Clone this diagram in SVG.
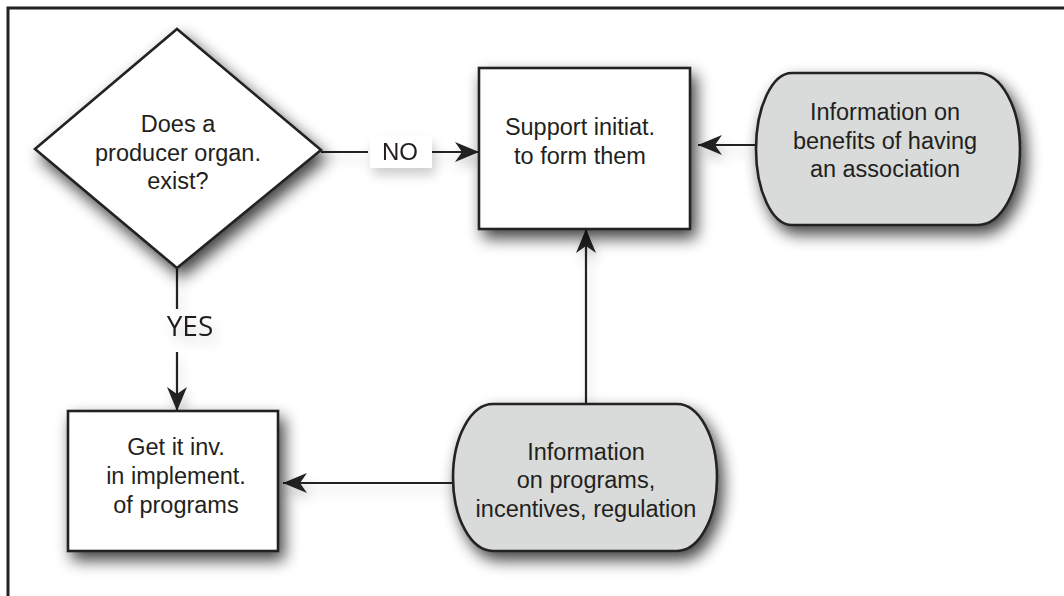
<svg xmlns="http://www.w3.org/2000/svg" width="1064" height="596" viewBox="0 0 1064 596">
  <style>
    .frame { fill: none; stroke: #222; stroke-width: 3; }
    .box { fill: #ffffff; stroke: #222; stroke-width: 2.6; }
    .info { fill: #d8dbd9; stroke: #222; stroke-width: 2.6; }
    .txt { font-family: "Liberation Sans", Arial, sans-serif; font-size: 23.5px; fill: #231f20; text-anchor: middle; }
    .lbl { font-family: "Liberation Sans", Arial, sans-serif; font-size: 24px; fill: #231f20; text-anchor: middle; }
    .yes { font-family: "Open Sans", "Noto Sans", sans-serif; font-size: 28px; fill: #231f20; text-anchor: middle; }
    .wire { fill: none; stroke: #222; stroke-width: 2.2; }
  </style>
  <defs>
    <filter id="shadow" x="-30%" y="-30%" width="170%" height="170%">
      <feGaussianBlur in="SourceAlpha" stdDeviation="8"/>
      <feOffset dx="5" dy="8" result="b"/>
      <feComponentTransfer><feFuncA type="linear" slope="0.75"/></feComponentTransfer>
      <feMerge><feMergeNode/><feMergeNode in="SourceGraphic"/></feMerge>
    </filter>
    <filter id="lineShadow" x="-20%" y="-200%" width="140%" height="500%">
      <feGaussianBlur in="SourceAlpha" stdDeviation="6"/>
      <feOffset dx="3" dy="7"/>
      <feComponentTransfer><feFuncA type="linear" slope="0.2"/></feComponentTransfer>
      <feMerge><feMergeNode/><feMergeNode in="SourceGraphic"/></feMerge>
    </filter>
    <marker id="arrow" markerUnits="userSpaceOnUse" markerWidth="26" markerHeight="20" refX="24" refY="10" orient="auto">
      <path d="M0,0 L24,10 L0,20 L7,10 Z" fill="#222"/>
    </marker>
  </defs>

  <rect width="1064" height="596" fill="#ffffff"/>
  <rect class="frame" x="8" y="8" width="1080" height="610"/>

  <!-- connectors -->
  <g id="connectors" filter="url(#lineShadow)">
    <path class="wire" d="M321,152 H368"/>
    <path class="wire" d="M432,152 H479" marker-end="url(#arrow)"/>
    <path class="wire" d="M757,145 H698" marker-end="url(#arrow)"/>
    <path class="wire" d="M586,404 V229" marker-end="url(#arrow)"/>
    <path class="wire" d="M453,483 H283" marker-end="url(#arrow)"/>
    <path class="wire" d="M177,268 V309"/>
    <path class="wire" d="M177,352 V411" marker-end="url(#arrow)"/>
    <rect x="370" y="136" width="62" height="32" fill="#ffffff"/>
    <text class="lbl" x="400" y="160">NO</text>
    <text class="yes" x="190" y="336">YES</text>
  </g>

  <!-- decision -->
  <g id="decision">
    <polygon class="box" filter="url(#shadow)" points="177,29 321,150 177,268 35,149"/>
    <text class="txt" x="178" y="132">Does a</text>
    <text class="txt" x="178" y="161">producer organ.</text>
    <text class="txt" x="178" y="189">exist?</text>
  </g>

  <!-- support initiatives -->
  <g id="support">
    <rect class="box" filter="url(#shadow)" x="479" y="68" width="211" height="161"/>
    <text class="txt" x="580" y="135">Support initiat.</text>
    <text class="txt" x="580" y="164">to form them</text>
  </g>

  <!-- information on benefits -->
  <g id="benefits">
    <path class="info" filter="url(#shadow)" d="M792,73 H978 A42,76 0 0 1 978,225 H792 A36,76 0 0 1 792,73 Z"/>
    <text class="txt" x="885" y="120">Information on</text>
    <text class="txt" x="885" y="149">benefits of having</text>
    <text class="txt" x="885" y="177">an association</text>
  </g>

  <!-- get involved -->
  <g id="involve">
    <rect class="box" filter="url(#shadow)" x="68" y="411" width="210" height="140"/>
    <text class="txt" x="176" y="455">Get it inv.</text>
    <text class="txt" x="176" y="484">in implement.</text>
    <text class="txt" x="176" y="513">of programs</text>
  </g>

  <!-- information on programs -->
  <g id="programs">
    <path class="info" filter="url(#shadow)" d="M493,404 H677 A40,73.5 0 0 1 677,551 H493 A40,73.5 0 0 1 493,404 Z"/>
    <text class="txt" x="586" y="460">Information</text>
    <text class="txt" x="586" y="488">on programs,</text>
    <text class="txt" x="586" y="517">incentives, regulation</text>
  </g>
</svg>
